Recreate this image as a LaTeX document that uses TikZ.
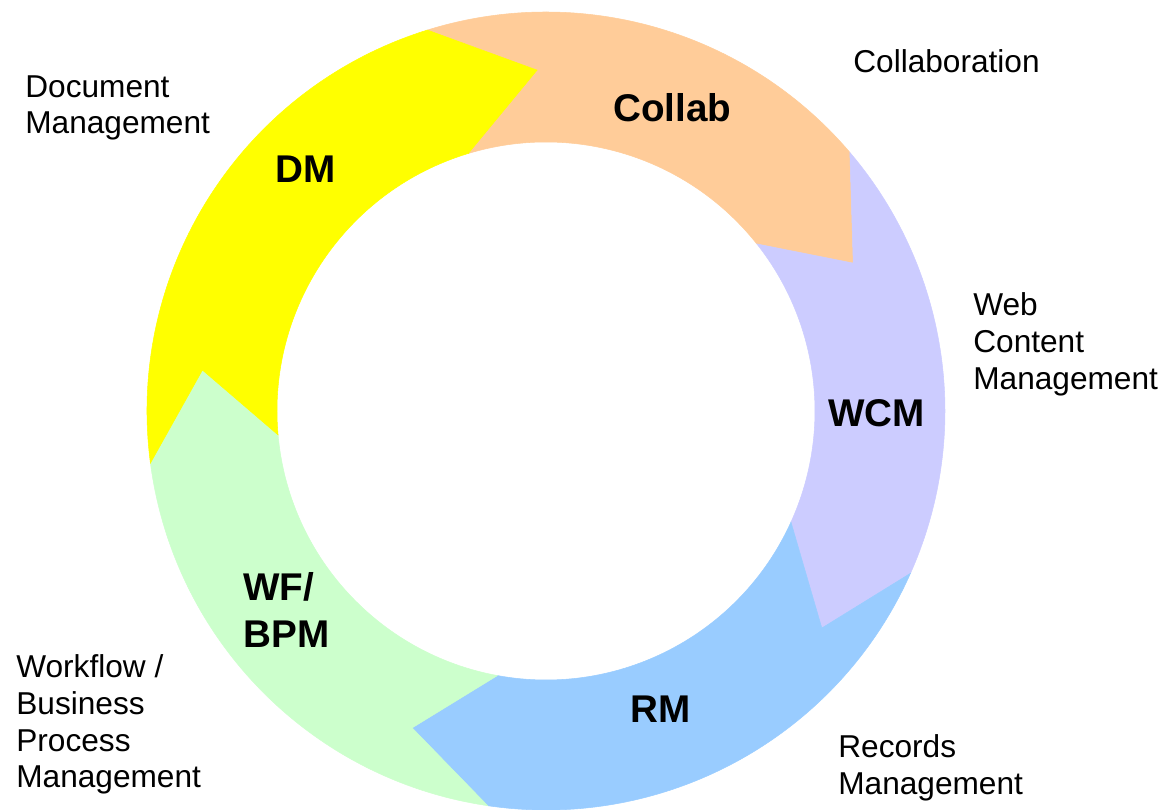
\documentclass[tikz,border=0pt]{standalone}
\usepackage{fontspec}
\setmainfont{Liberation Sans}
\definecolor{collabcol}{HTML}{FFCC99}
\definecolor{wcmcol}{HTML}{CCCCFF}
\definecolor{rmcol}{HTML}{99CCFF}
\definecolor{wfcol}{HTML}{CCFFCC}
\definecolor{dmcol}{HTML}{FFFF00}
\tikzset{
  ringpart/.style={fill=#1,draw=#1,line width=0.3pt},
  shortname/.style={font=\bfseries\fontsize{22}{26.6}\selectfont,inner sep=0pt,align=left},
  fullname/.style={font=\fontsize{18}{21}\selectfont,inner sep=0pt,align=left}
}
\def\Ro{399}
\def\Ri{269}
\begin{document}
\begin{tikzpicture}[x=0.02cm,y=0.02cm]
    \useasboundingbox (-546,-399) rectangle (624,411);
    \coordinate (c) at (0,0);

    % Ring of arrow segments, clockwise from the top
    \fill[ringpart=collabcol] (107.3:\Ro) arc[start angle=107.3,end angle=40.4,radius=\Ro]
      -- (25.7:341) -- (38.4:\Ri) arc[start angle=38.4,end angle=106.8,radius=\Ri]
      -- (91.5:341) -- cycle;
    \fill[ringpart=wcmcol] (40.4:\Ro) arc[start angle=40.4,end angle=-24,radius=\Ro]
      -- (-38.2:351) -- (-24.4:\Ri) arc[start angle=-24.4,end angle=38.4,radius=\Ri]
      -- (25.7:341) -- cycle;
    \fill[ringpart=rmcol] (-24:\Ro) arc[start angle=-24,end angle=-98.4,radius=\Ro]
      -- (-112.9:344) -- (-100.4:\Ri) arc[start angle=-100.4,end angle=-24.4,radius=\Ri]
      -- (-38.2:351) -- cycle;
    \fill[ringpart=wfcol] (261.6:\Ro) arc[start angle=261.6,end angle=187.5,radius=\Ro]
      -- (173.2:346) -- (185.1:\Ri) arc[start angle=185.1,end angle=259.6,radius=\Ri]
      -- (247.1:344) -- cycle;
    \fill[ringpart=dmcol] (187.5:\Ro) arc[start angle=187.5,end angle=107.3,radius=\Ro]
      -- (91.5:341) -- (106.8:\Ri) arc[start angle=106.8,end angle=185.1,radius=\Ri]
      -- (173.2:346) -- cycle;

    % Short names on the ring
    \node[shortname,anchor=base west] (collab) at (67,289) {Collab};
    \node[shortname,anchor=base west] (wcm) at (282,-16) {WCM};
    \node[shortname,anchor=base west] (rm) at (84,-312) {RM};
    \node[shortname,anchor=north west] (wf) at (-303,-161) {WF/\\BPM};
    \node[shortname,anchor=base west] (dm) at (-271,228) {DM};

    % Full names outside the ring
    \node[fullname,anchor=base west] (collabtext) at (307,338) {Collaboration};
    \node[fullname,anchor=north west] (wcmtext) at (427,119) {Web\\Content\\Management};
    \node[fullname,anchor=north west] (rmtext) at (292,-323) {Records\\Management};
    \node[fullname,anchor=north west] (wftext) at (-530,-243) {Workflow /\\Business\\Process\\Management};
    \node[fullname,anchor=north west] (dmtext) at (-521,336) {Document\\Management};
\end{tikzpicture}
\end{document}
